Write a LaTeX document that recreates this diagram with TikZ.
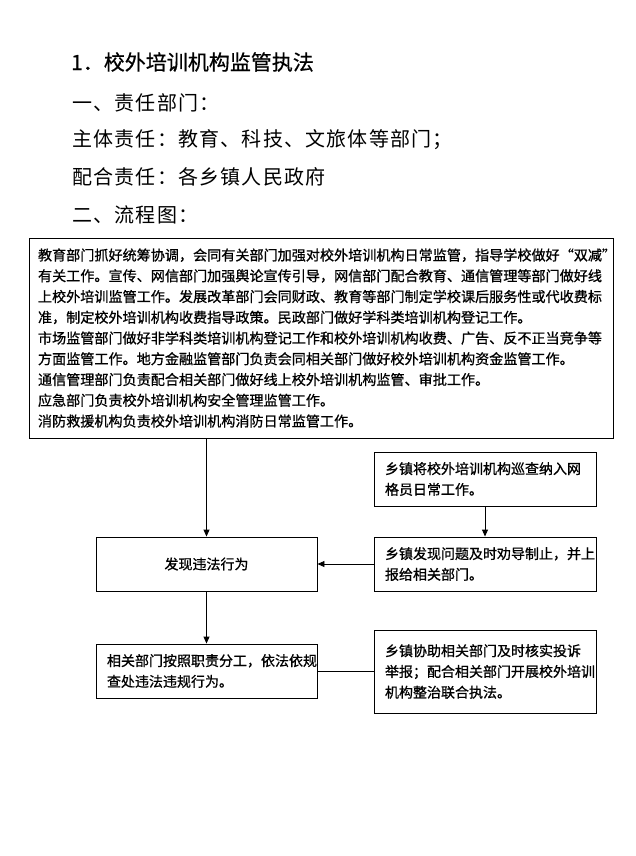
\documentclass[tikz,border=0pt]{standalone}
\usepackage{fontspec}
\setmainfont{Noto Sans CJK SC}
\newfontfamily\bodyfont{Noto Sans CJK SC}[FakeBold=0.8]
\newfontfamily\titlefont{Noto Sans CJK SC}[FakeBold=0.6]
\newfontfamily\headfont{Noto Sans CJK SC}[LetterSpace=6]
\usetikzlibrary{arrows.meta}
\begin{document}
\begin{tikzpicture}[x=1pt,y=-1pt,
  box/.style={draw, line width=0.9pt, inner ysep=0pt},
  bodytxt/.style={font=\bodyfont\fontsize{14}{20.75}\selectfont, align=left},
  headtxt/.style={anchor=west, inner sep=0pt, font=\headfont\fontsize{20}{20}\selectfont},
  arr/.style={line width=0.9pt, -{Triangle[length=7pt,width=6pt]}},
  conn/.style={line width=0.9pt}]
\useasboundingbox[fill=white] (0,0) rectangle (635,856);

\node[headtxt, font=\titlefont\fontsize{21}{21}\selectfont] (title) at (71,62) {1．校外培训机构监管执法};
\node[headtxt] (h1) at (72,103) {一、责任部门：};
\node[headtxt] (h2) at (72,140) {主体责任：教育、科技、文旅体等部门；};
\node[headtxt] (h3) at (72,177) {配合责任：各乡镇人民政府};
\node[headtxt] (h4) at (72,215) {二、流程图：};

\node[box, bodytxt, font=\bodyfont\fontsize{14.1}{20.75}\selectfont, minimum width=584pt, minimum height=200pt, text width=566pt, inner xsep=9pt] (big) at (321,338) {教育部门抓好统筹协调，会同有关部门加强对校外培训机构日常监管，指导学校做好“双减”\\
有关工作。宣传、网信部门加强舆论宣传引导，网信部门配合教育、通信管理等部门做好线\\
上校外培训监管工作。发展改革部门会同财政、教育等部门制定学校课后服务性或代收费标\\
准，制定校外培训机构收费指导政策。民政部门做好学科类培训机构登记工作。\\
市场监管部门做好非学科类培训机构登记工作和校外培训机构收费、广告、反不正当竞争等\\
方面监管工作。地方金融监管部门负责会同相关部门做好校外培训机构资金监管工作。\\
通信管理部门负责配合相关部门做好线上校外培训机构监管、审批工作。\\
应急部门负责校外培训机构安全管理监管工作。\\
消防救援机构负责校外培训机构消防日常监管工作。};

\node[box, bodytxt, minimum width=221pt, minimum height=54pt] (find) at (206.5,564) {发现违法行为};

\node[box, bodytxt, minimum width=222pt, minimum height=54pt, text width=200pt, inner xsep=11pt] (grid) at (485,479) {乡镇将校外培训机构巡查纳入网\\格员日常工作。};

\node[box, bodytxt, minimum width=222pt, minimum height=54pt, text width=200pt, inner xsep=11pt] (report) at (485,564) {乡镇发现问题及时劝导制止，并上\\报给相关部门。};

\node[box, bodytxt, minimum width=221pt, minimum height=54pt, text width=199pt, inner xsep=11pt] (handle) at (206.5,671) {相关部门按照职责分工，依法依规\\查处违法违规行为。};

\node[box, bodytxt, minimum width=222pt, minimum height=83pt, text width=200pt, inner xsep=11pt] (assist) at (485,671.5) {乡镇协助相关部门及时核实投诉\\举报；配合相关部门开展校外培训\\机构整治联合执法。};

\draw[arr] (find.north |- big.south) -- (find.north);
\draw[arr] (grid.south) -- (report.north);
\draw[arr] (report.west) -- (find.east);
\draw[arr] (find.south) -- (handle.north);
\draw[conn] (handle.east) -- (handle.east -| assist.west);
\end{tikzpicture}
\end{document}
